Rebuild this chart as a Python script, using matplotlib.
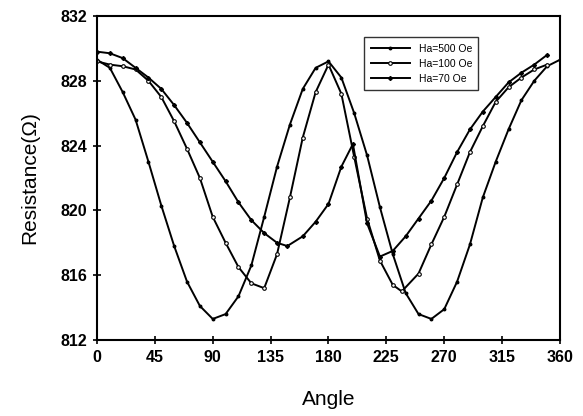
import matplotlib
matplotlib.use("Agg")
import matplotlib.pyplot as plt

plt.rcParams['font.family'] = ['Liberation Sans', 'DejaVu Sans']

# angle (deg) and resistance (Ohm) for each field
ang_500 = [0, 10, 20, 30, 40, 50, 60, 70, 80, 90, 100, 110, 120, 130, 140, 150, 160, 170, 180,
           190, 200, 210, 220, 230, 240, 250, 260, 270, 280, 290, 300, 310, 320, 330, 340, 350, 360]
res_500 = [829.3, 828.8, 827.3, 825.6, 823.0, 820.3, 817.8, 815.6, 814.1, 813.3, 813.6, 814.7, 816.6,
           819.6, 822.7, 825.3, 827.5, 828.8, 829.2,
           828.2, 826.0, 823.4, 820.2, 817.3, 814.9, 813.6, 813.3, 813.9, 815.6, 817.9, 820.8,
           823.0, 825.0, 826.8, 828.0, 828.9, 829.3]

ang_100 = [0, 10, 20, 30, 40, 50, 60, 70, 80, 90, 100, 110, 120, 130, 140, 150, 160, 170, 180,
           190, 200, 210, 220, 230, 237, 250, 260, 270, 280, 290, 300, 310, 320, 330, 340, 350]
res_100 = [829.2, 829.0, 828.9, 828.7, 828.0, 827.0, 825.5, 823.8, 822.0, 819.6, 818.0, 816.5, 815.5,
           815.2, 817.3, 820.8, 824.5, 827.3, 829.0,
           827.2, 823.3, 819.5, 816.9, 815.4, 815.0, 816.1, 817.9, 819.6, 821.6, 823.6, 825.2,
           826.7, 827.6, 828.2, 828.7, 829.0]

ang_70 = [0, 10, 20, 30, 40, 50, 60, 70, 80, 90, 100, 110, 120, 130, 140, 148, 160, 170, 180,
          190, 199, 210, 220, 230, 240, 250, 260, 270, 280, 290, 300, 310, 320, 330, 340, 350]
res_70 = [829.8, 829.7, 829.4, 828.8, 828.2, 827.5, 826.5, 825.4, 824.2, 823.0, 821.8, 820.5, 819.4,
          818.6, 818.0, 817.8, 818.4, 819.3, 820.4,
          822.7, 824.1, 819.2, 817.15, 817.5, 818.4, 819.5, 820.6, 822.0, 823.6, 825.0, 826.1,
          827.0, 827.9, 828.5, 829.0, 829.6]

labels = ['Ha=500 Oe', 'Ha=100 Oe', 'Ha=70 Oe']
xticks = [0, 45, 90, 135, 180, 225, 270, 315, 360]
yticks = [812, 816, 820, 824, 828, 832]

fig = plt.figure(figsize=(5.83, 4.16), dpi=100)
ax = fig.add_axes([0.1664, 0.1827, 0.7941, 0.7788])

ax.plot(ang_500, res_500, color='black', lw=1.4, marker='o', ms=1.8, label=labels[0])
ax.plot(ang_100, res_100, color='black', lw=1.4, marker='o', ms=2.6, mfc='white', mew=0.8, label=labels[1])
ax.plot(ang_70, res_70, color='black', lw=1.4, marker='D', ms=2.0, label=labels[2])

ax.set_xlim(0, 360)
ax.set_ylim(812, 832)
ax.set_xticks(xticks)
ax.set_yticks(yticks)
ax.tick_params(axis='both', direction='inout', length=6, width=1.2, labelsize=11.5, pad=4)
for lab in ax.get_xticklabels() + ax.get_yticklabels():
    lab.set_fontweight('bold')
for s in ax.spines.values():
    s.set_linewidth(1.5)

ax.set_xlabel('Angle', fontsize=15, labelpad=18)
ax.set_ylabel('Resistance(Ω)', fontsize=15, labelpad=15)

leg = ax.legend(loc='upper right', bbox_to_anchor=(0.835, 0.95), fontsize=7.5, frameon=True,
                fancybox=False, edgecolor='black', handlelength=3.8, borderpad=0.6,
                labelspacing=0.5)
leg.get_frame().set_linewidth(1.0)

fig.savefig('out.png', dpi=100)
